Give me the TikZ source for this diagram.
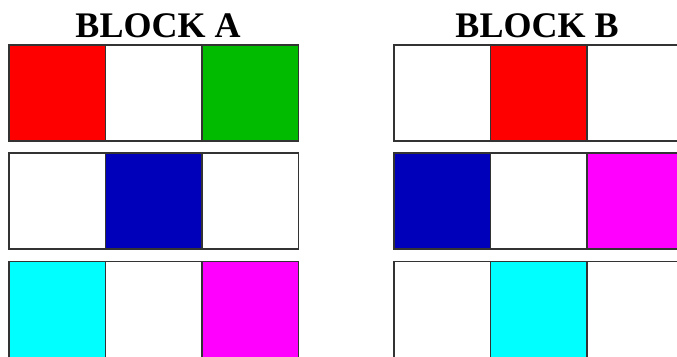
\documentclass[tikz,border=0pt]{standalone}
\usepackage{fontspec}
\setmainfont{Liberation Serif}
\definecolor{cred}{HTML}{FF0000}
\definecolor{cgreen}{HTML}{00BB00}
\definecolor{cblue}{HTML}{0000BB}
\definecolor{ccyan}{HTML}{00FFFF}
\definecolor{cmag}{HTML}{FF00FF}
\definecolor{cline}{HTML}{333333}
\tikzset{
  cell/.style={draw=cline, line width=1.6pt, rectangle, minimum width=96.5pt, minimum height=96pt, inner sep=0pt, outer sep=0pt, anchor=north west},
  title/.style={font=\bfseries\fontsize{36}{40}\selectfont, inner sep=0pt, anchor=base}
}
\begin{document}
\begin{tikzpicture}[x=1pt,y=-1pt]
\useasboundingbox (0,0) rectangle (677,356);
\clip (0,0) rectangle (677,356);
\fill[white] (0,0) rectangle (677,356);
\node[title] (ta) at (158,37) {BLOCK A};
\node[title] (tb) at (537,37) {BLOCK B};
% Block A
\node[cell, fill=cred]   (a11) at (9,45) {};
\node[cell, fill=white]  (a12) at (105.5,45) {};
\node[cell, fill=cgreen] (a13) at (202,45) {};
\node[cell, fill=white]  (a21) at (9,153) {};
\node[cell, fill=cblue]  (a22) at (105.5,153) {};
\node[cell, fill=white]  (a23) at (202,153) {};
\node[cell, fill=ccyan]  (a31) at (9,261.5) {};
\node[cell, fill=white]  (a32) at (105.5,261.5) {};
\node[cell, fill=cmag]   (a33) at (202,261.5) {};
% Block B
\node[cell, fill=white]  (b11) at (394,45) {};
\node[cell, fill=cred]   (b12) at (490.5,45) {};
\node[cell, fill=white]  (b13) at (587,45) {};
\node[cell, fill=cblue]  (b21) at (394,153) {};
\node[cell, fill=white]  (b22) at (490.5,153) {};
\node[cell, fill=cmag]   (b23) at (587,153) {};
\node[cell, fill=white]  (b31) at (394,261.5) {};
\node[cell, fill=ccyan]  (b32) at (490.5,261.5) {};
\node[cell, fill=white]  (b33) at (587,261.5) {};
\end{tikzpicture}
\end{document}
